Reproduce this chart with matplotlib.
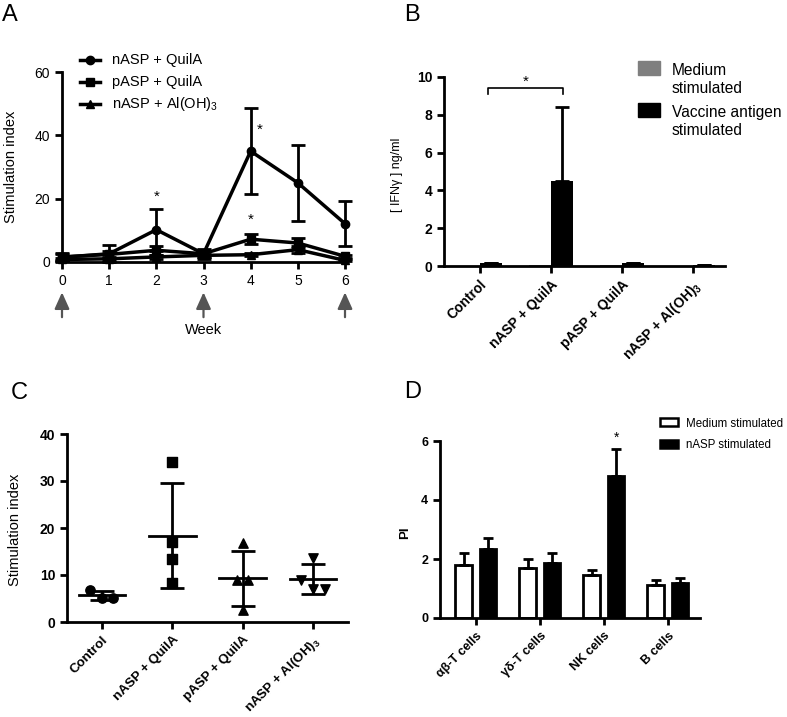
import matplotlib

matplotlib.use("Agg")

import matplotlib.pyplot as plt
from matplotlib.lines import Line2D
from matplotlib.patches import Rectangle

plt.rcParams["font.family"] = ["Liberation Sans", "DejaVu Sans"]
plt.rcParams["mathtext.fontset"] = "custom"
plt.rcParams["mathtext.rm"] = "Liberation Sans"
plt.rcParams["mathtext.bf"] = "Liberation Sans:bold"
plt.rcParams["mathtext.default"] = "regular"

# ---- data ----
# A: stimulation index over weeks
weeks = [0, 1, 2, 3, 4, 5, 6]
a_labels = ["nASP + QuilA", "pASP + QuilA", "nASP + Al(OH)$_3$"]
a_markers = ["o", "s", "^"]
a_nasp_quila = [1.5, 2.6, 10.2, 2.6, 35.0, 25.0, 12.1]
a_nasp_quila_err = [1.0, 2.7, 6.6, 1.6, 13.5, 12.0, 7.1]
a_pasp_quila = [1.6, 2.4, 3.7, 2.6, 7.2, 6.0, 1.8]
a_pasp_quila_err = [1.3, 1.0, 1.5, 1.0, 1.5, 1.7, 0.5]
a_nasp_al = [0.8, 1.0, 1.6, 2.1, 2.3, 3.9, 0.5]
a_nasp_al_err = [0.5, 0.5, 0.5, 0.5, 0.5, 1.0, 0.3]
a_stars = [(2, 20.7), (4.2, 41.6), (4, 13.2)]
a_arrow_weeks = [0, 3, 6]

# B: IFN-gamma
groups = ["Control", "nASP + QuilA", "pASP + QuilA", "nASP + Al(OH)$\\mathbf{_3}$"]
b_medium = [0.02, 0.03, 0.03, 0.01]
b_vaccine = [0.15, 4.5, 0.15, 0.06]
b_vaccine_err = [0.0, 3.9, 0.0, 0.0]

# C: individual stimulation index
c_values = [
    [6.9, 5.1, 5.1],
    [34.0, 17.0, 13.3, 8.4],
    [16.9, 9.0, 9.0, 2.5],
    [13.7, 9.0, 7.0, 7.0],
]
c_jitter = [
    [-0.17, 0.0, 0.16],
    [0.0, 0.0, 0.0, 0.0],
    [0.0, -0.08, 0.08, 0.0],
    [0.0, -0.17, 0.0, 0.17],
]
c_mean = [5.7, 18.4, 9.3, 9.1]
c_sd = [0.95, 11.2, 5.8, 3.2]
c_markers = ["o", "s", "^", "v"]

# D: proliferation index by cell type
cells = ["αβ-T cells", "γδ-T cells", "NK cells", "B cells"]
d_medium = [1.79, 1.71, 1.47, 1.11]
d_medium_err = [0.43, 0.29, 0.15, 0.19]
d_nasp = [2.33, 1.85, 4.82, 1.17]
d_nasp_err = [0.39, 0.35, 0.90, 0.17]


def style_axes(ax):
    ax.spines["top"].set_visible(False)
    ax.spines["right"].set_visible(False)
    ax.spines["left"].set_linewidth(2)
    ax.spines["bottom"].set_linewidth(2)
    ax.tick_params(direction="out", length=5, width=2)


fig = plt.figure(figsize=(7.87, 7.17), dpi=100)
W, H = 787, 717


def px_axes(l, t, r, b):
    return fig.add_axes([l / W, 1 - b / H, (r - l) / W, (b - t) / H])


def fx(x):
    return x / W


def fy(y):
    return 1 - y / H


# ---------- Panel A ----------
axA = px_axes(62, 72, 345, 262)
style_axes(axA)
a_series = [
    (a_nasp_quila, a_nasp_quila_err),
    (a_pasp_quila, a_pasp_quila_err),
    (a_nasp_al, a_nasp_al_err),
]
for (vals, errs), m in zip(a_series, a_markers):
    axA.errorbar(weeks, vals, yerr=errs, color="black", lw=2.5, marker=m, ms=6,
                 capsize=5, capthick=2, elinewidth=2, clip_on=False, zorder=3)
axA.set_xlim(0, 6)
axA.set_ylim(0, 60)
axA.set_yticks([0, 20, 40, 60])
axA.set_xticks(weeks)
axA.tick_params(labelsize=10)
axA.set_ylabel("Stimulation index", fontsize=10.5)
axA.yaxis.set_label_coords(-0.155, 0.5)
for sx, sy in a_stars:
    axA.text(sx, sy, "*", ha="center", va="center", fontsize=11)
for w in a_arrow_weeks:
    axA.annotate("", xy=(w, -0.145), xycoords=("data", "axes fraction"),
                 xytext=(w, -0.305), textcoords=("data", "axes fraction"),
                 arrowprops=dict(arrowstyle="-|>,head_width=0.45,head_length=1.0",
                                 color="#555555", lw=1.6),
                 annotation_clip=False)
axA.text(3, -0.36, "Week", transform=axA.get_xaxis_transform(), ha="center",
         va="center", fontsize=10.5)

# legend A (drawn by hand)
for i, (lab, m) in enumerate(zip(a_labels, a_markers)):
    y = fy(60 + 22 * i)
    fig.add_artist(Line2D([fx(80), fx(100)], [y, y], color="black", lw=2.5,
                          transform=fig.transFigure))
    fig.add_artist(Line2D([fx(90)], [y], color="black", marker=m, ms=6,
                          transform=fig.transFigure))
    fig.text(fx(112), y, lab, fontsize=10.5, va="center")

# ---------- Panel B ----------
axB = px_axes(444, 77, 725, 266)
style_axes(axB)
xb = range(len(groups))
axB.bar([x - 0.155 for x in xb], b_medium, width=0.31, color="#7f7f7f")
axB.bar([x + 0.155 for x in xb], b_vaccine, width=0.31, color="black")
axB.errorbar([x + 0.155 for x in xb], b_vaccine, yerr=[[0] * 4, b_vaccine_err],
             fmt="none", ecolor="black", elinewidth=2, capsize=5, capthick=2)
axB.set_xlim(-0.5, 3.45)
axB.set_ylim(0, 10)
axB.set_yticks([0, 2, 4, 6, 8, 10])
axB.set_xticks(list(xb))
axB.set_xticklabels(groups, rotation=45, ha="right", rotation_mode="anchor",
                    fontweight="bold", fontsize=10)
for lab in axB.get_yticklabels():
    lab.set_fontweight("bold")
    lab.set_fontsize(10)
axB.set_ylabel("[ IFNγ ] ng/ml", fontsize=9)
axB.yaxis.set_label_coords(-0.145, 0.48)
# significance bracket
axB.plot([0.12, 0.12, 1.17, 1.17], [9.1, 9.4, 9.4, 9.1], color="black", lw=1.2)
axB.text(0.65, 9.75, "*", ha="center", va="center", fontsize=11)

# legend B (drawn by hand)
fig.add_artist(Rectangle((fx(638), fy(75)), fx(22), 14 / H, color="#7f7f7f",
                         transform=fig.transFigure))
fig.add_artist(Rectangle((fx(638), fy(117)), fx(22), 14 / H, color="black",
                         transform=fig.transFigure))
for txt, base in [("Medium", 75), ("stimulated", 93), ("Vaccine antigen", 117),
                  ("stimulated", 135)]:
    fig.text(fx(672), fy(base), txt, fontsize=11.2, va="baseline")

# ---------- Panel C ----------
axC = px_axes(67, 434, 348, 622)
style_axes(axC)
for i, (vals, jit, m) in enumerate(zip(c_values, c_jitter, c_markers)):
    axC.scatter([i + j for j in jit], vals, marker=m, s=45, color="black",
                zorder=3)
    axC.plot([i - 0.33, i + 0.33], [c_mean[i], c_mean[i]], color="black", lw=2)
    axC.errorbar([i], [c_mean[i]], yerr=[c_sd[i]], fmt="none", ecolor="black",
                 elinewidth=2, capsize=8.5, capthick=2)
axC.set_xlim(-0.5, 3.5)
axC.set_ylim(0, 40)
axC.set_yticks([0, 10, 20, 30, 40])
axC.set_xticks(range(len(groups)))
axC.set_xticklabels(groups, rotation=45, ha="right", rotation_mode="anchor",
                    fontweight="bold", fontsize=9.6)
for lab in axC.get_yticklabels():
    lab.set_fontweight("bold")
    lab.set_fontsize(10)
axC.set_ylabel("Stimulation index", fontsize=10.5)
axC.yaxis.set_label_coords(-0.16, 0.49)

# ---------- Panel D ----------
axD = px_axes(440, 441, 700, 618)
style_axes(axD)
xd = range(len(cells))
axD.bar([x - 0.19 for x in xd], d_medium, width=0.26, color="white",
        edgecolor="black", lw=2, yerr=[[0] * 4, d_medium_err],
        error_kw=dict(elinewidth=2, capsize=3.5, capthick=2))
axD.bar([x + 0.19 for x in xd], d_nasp, width=0.26, color="black",
        edgecolor="black", lw=2, yerr=[[0] * 4, d_nasp_err],
        error_kw=dict(elinewidth=2, capsize=3.5, capthick=2))
axD.set_xlim(-0.56, 3.5)
axD.set_ylim(0, 6)
axD.set_yticks([0, 2, 4, 6])
axD.set_xticks(list(xd))
axD.set_xticklabels(cells, rotation=45, ha="right", rotation_mode="anchor",
                    fontweight="bold", fontsize=9)
for lab in axD.get_yticklabels():
    lab.set_fontweight("bold")
    lab.set_fontsize(9)
axD.set_ylabel("PI", fontsize=9.5, fontweight="bold")
axD.yaxis.set_label_coords(-0.11, 0.48)
axD.text(2.19, 6.1, "*", ha="center", va="center", fontsize=10)

# legend D (drawn by hand)
fig.add_artist(Rectangle((fx(660), fy(426)), fx(18), 8 / H, facecolor="white",
                         edgecolor="black", lw=1.8, transform=fig.transFigure))
fig.add_artist(Rectangle((fx(660), fy(448)), fx(18), 8 / H, facecolor="black",
                         edgecolor="black", lw=1.8, transform=fig.transFigure))
fig.text(fx(686), fy(427), "Medium stimulated", fontsize=8.3, va="baseline")
fig.text(fx(686), fy(448), "nASP stimulated", fontsize=8.3, va="baseline")

# panel letters
for letter, x, y in [("A", 2, 21), ("B", 404, 21), ("C", 11, 399), ("D", 404, 398)]:
    fig.text(fx(x), fy(y), letter, fontsize=17, va="baseline")

fig.savefig("out.png", dpi=100)
